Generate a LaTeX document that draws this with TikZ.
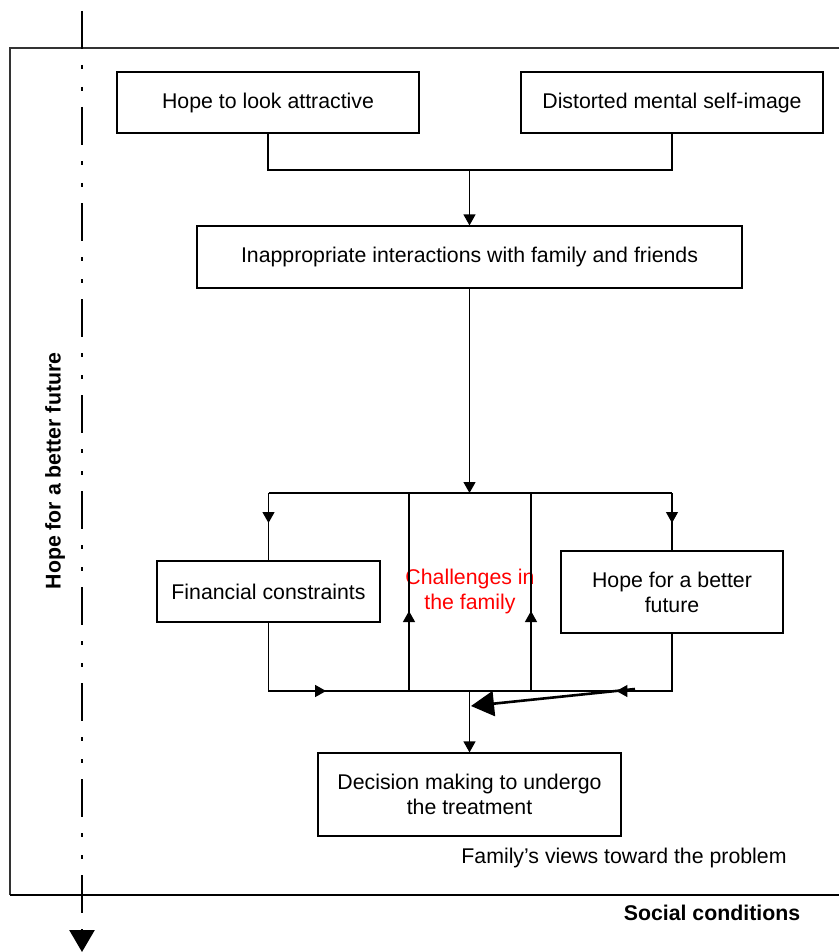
\documentclass[tikz,border=0pt]{standalone}
\usepackage{fontspec}
\setmainfont{Liberation Sans}
\usetikzlibrary{arrows.meta,decorations.markings}
\tikzset{
  box/.style={draw, line width=1.2pt, inner sep=0pt, align=center, font=\fontsize{21.3}{25}\selectfont},
  conn/.style={line width=1.2pt},
  tipdown/.style={conn, -{Triangle[length=11pt,width=12pt]}},
  midtip/.style={conn, postaction={decorate}, decoration={markings, mark=at position #1 with {\arrow{Triangle[length=11pt,width=12pt]}}}},
  lbl/.style={font=\fontsize{21.3}{25}\selectfont, align=center},
  blbl/.style={font=\fontsize{21.3}{25}\selectfont\bfseries, align=center},
  axisline/.style={line width=2.6pt, dash pattern=on 38pt off 16pt on 4pt off 18pt on 4pt off 16pt, -{Triangle[length=22pt,width=25pt]}},
  framel/.style={line width=1.5pt, draw=black!80}
}
\begin{document}
\begin{tikzpicture}[x=1pt,y=-1pt]
\useasboundingbox (0,0) rectangle (839,952);
% frame
\coordinate (f1) at (839,48);
\coordinate (f2) at (10,48);
\coordinate (f3) at (10,895);
\coordinate (f4) at (839,895);
\draw[framel] (f1) -- (f2) -- (f3);
\draw[line width=1.5pt] (f3) -- (f4);
% vertical axis
\coordinate (ax1) at (82,11);
\coordinate (ax2) at (82,952);
\draw[axisline] (ax1) -- (ax2);
\node[blbl, rotate=90] (hfut) at (55,471) {Hope for a better future};
% boxes
\node[box, minimum width=302pt, minimum height=61pt] (b1) at (268,102.5) {Hope to look attractive};
\node[box, minimum width=302pt, minimum height=61pt] (b2) at (672,102.5) {Distorted mental self-image};
\node[box, minimum width=545pt, minimum height=62pt] (b3) at (469.5,257) {Inappropriate interactions with family and friends};
\node[box, minimum width=223pt, minimum height=61pt] (fin) at (268.5,591.5) {Financial constraints};
\node[box, minimum width=222pt, minimum height=82pt] (hope) at (672,592) {Hope for a better\\future};
\node[box, minimum width=303pt, minimum height=83pt] (dec) at (469.5,794.5) {Decision making to undergo\\the treatment};
\node[lbl, text=red] (chal) at (470,591) {Challenges in\\the family};
\node[lbl] (fv) at (624,858) {Family’s views toward the problem};
\node[blbl] (soc) at (712,913) {Social conditions};
% connectors top
\coordinate (m1) at (469.5,170);
\draw[conn] (b1.south) |- (m1) -| (b2.south);
\draw[tipdown] (m1) -- (b3.north);
% middle
\coordinate (t) at (469.5,493);
\coordinate (tl) at (268.5,493);
\coordinate (tr) at (672,493);
\draw[tipdown] (b3.south) -- (t);
\draw[conn] (tl) -- (tr);
\draw[midtip=30pt] (tl) -- (fin.north);
\draw[midtip=30pt] (tr) -- (hope.north);
\coordinate (v1b) at (409,691);
\coordinate (v1t) at (409,493);
\coordinate (v2b) at (531,691);
\coordinate (v2t) at (531,493);
\draw[midtip=80pt] (v1b) -- (v1t);
\draw[midtip=80pt] (v2b) -- (v2t);
% bottom bar
\coordinate (bl) at (268.5,691);
\coordinate (br) at (672,691);
\coordinate (jb) at (469.5,691);
\draw[midtip=126pt] (fin.south) -- (bl) -- (jb);
\draw[midtip=113pt] (hope.south) -- (br) -- (jb);
\draw[tipdown] (jb) -- (dec.north);
% thick arrow
\coordinate (ts) at (635,689);
\coordinate (te) at (471,706);
\draw[line width=2.6pt, -{Triangle[length=23pt,width=25pt]}] (ts) -- (te);
\end{tikzpicture}
\end{document}
